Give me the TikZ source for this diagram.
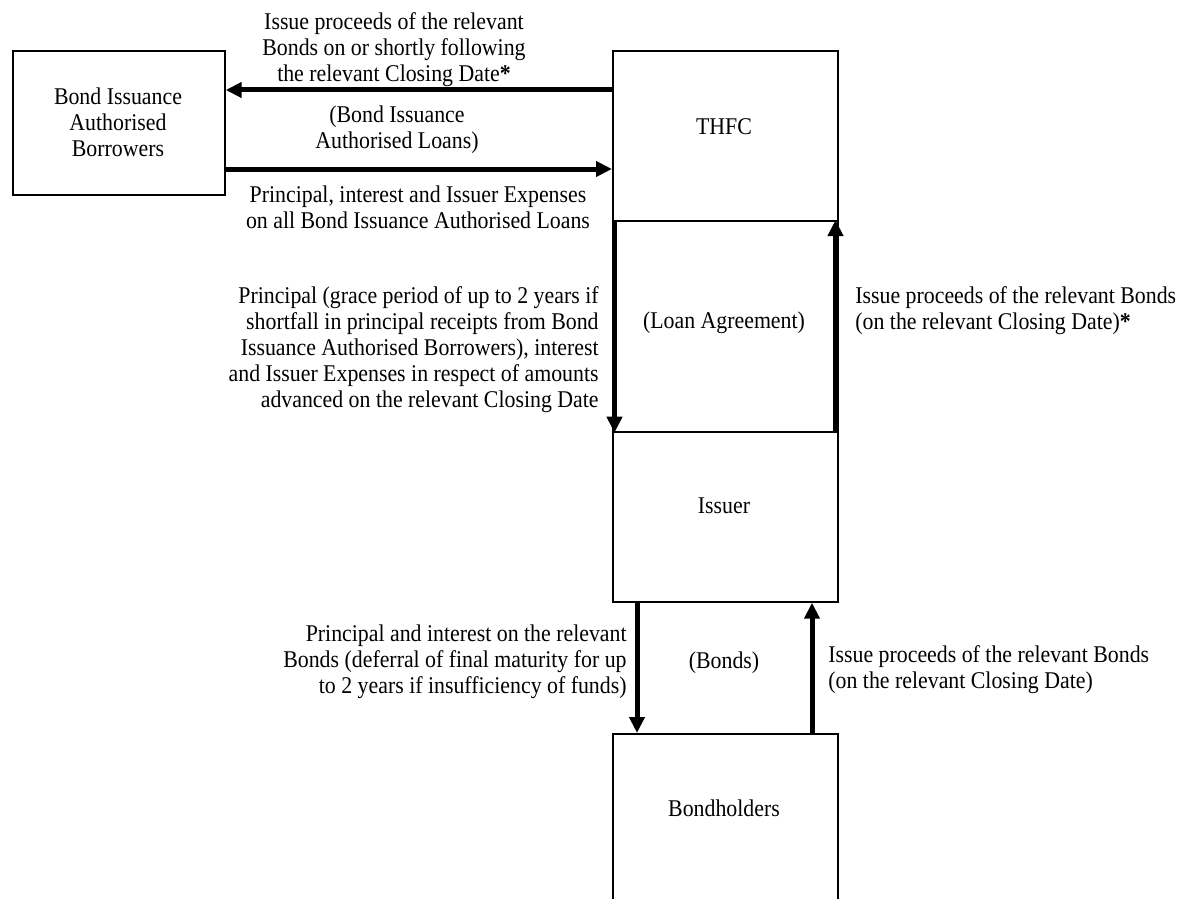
\documentclass[tikz,border=0pt]{standalone}
\usepackage{fontspec}
\setmainfont{Liberation Serif}[FakeStretch=0.91]
\usetikzlibrary{arrows.meta}
\tikzset{
  box/.style={draw, line width=0.85pt, rectangle, inner sep=0pt, anchor=north west},
  txt/.style={inner sep=0pt, font=\fontsize{12}{13}\selectfont},
  arr/.style={line width=2.5pt, -{Triangle[length=8pt,width=7.5pt]}},
}
\begin{document}
\begin{tikzpicture}[x=0.5pt,y=-0.5pt]
\clip (0,0) rectangle (1188,899);
% boxes
\node[box, minimum width=106pt, minimum height=72pt] (borrowers) at (12,50) {};
\node[box, minimum width=112.5pt, minimum height=85pt] (thfc) at (612,50) {};
\node[box, minimum width=112.5pt, minimum height=105.5pt] (loan) at (612,220) {};
\node[box, minimum width=112.5pt, minimum height=85pt] (issuer) at (612,431) {};
\node[box, minimum width=112.5pt, minimum height=110pt] (bondholders) at (612,733) {};
% box labels
\node[txt, align=center] (tborrowers) at (118,122) {Bond Issuance\\Authorised\\Borrowers};
\node[txt] (tthfc) at (724,127) {THFC};
\node[txt] (tloan) at (724,323) {(Loan Agreement)};
\node[txt] (tissuer) at (724,506) {Issuer};
\node[txt] (tbonds) at (724,663) {(Bonds)};
\node[txt] (tbondholders) at (724,808) {Bondholders};
% helper coordinates
\coordinate (y1) at (0,90);
\coordinate (y2) at (0,169);
\coordinate (x3) at (614.5,0);
\coordinate (x4) at (835.5,0);
\coordinate (x5) at (637,0);
\coordinate (x6) at (812,0);
% arrows
\draw[arr] (thfc.west |- y1) -- (borrowers.east |- y1);
\draw[arr] (borrowers.east |- y2) -- (thfc.west |- y2);
\draw[arr] (x3 |- loan.north) -- (x3 |- loan.south);
\draw[arr] (x4 |- loan.south) -- (x4 |- loan.north);
\draw[arr] (x5 |- issuer.south) -- (x5 |- bondholders.north);
\draw[arr] (x6 |- bondholders.north) -- (x6 |- issuer.south);
% arrow labels
\node[txt, align=center] (l1) at (394,50) {Issue proceeds of the relevant\\Bonds on or shortly following\\the relevant Closing Date\textbf{*}};
\node[txt, align=center] (l2) at (397,130) {(Bond Issuance\\Authorised Loans)};
\node[txt, align=center] (l3) at (418,207) {Principal, interest and Issuer Expenses\\on all Bond Issuance Authorised Loans};
\node[txt, align=right, anchor=east] (l4) at (599,349.5) {Principal (grace period of up to 2 years if\\shortfall in principal receipts from Bond\\Issuance Authorised Borrowers), interest\\and Issuer Expenses in respect of amounts\\advanced on the relevant Closing Date};
\node[txt, align=left, anchor=west] (l5) at (855,311) {Issue proceeds of the relevant Bonds\\(on the relevant Closing Date)\textbf{*}};
\node[txt, align=left, anchor=west] (l7) at (828,670) {Issue proceeds of the relevant Bonds\\(on the relevant Closing Date)};
\node[txt, align=right, anchor=east] (l6) at (627,662) {Principal and interest on the relevant\\Bonds (deferral of final maturity for up\\to 2 years if insufficiency of funds)};
\end{tikzpicture}
\end{document}
